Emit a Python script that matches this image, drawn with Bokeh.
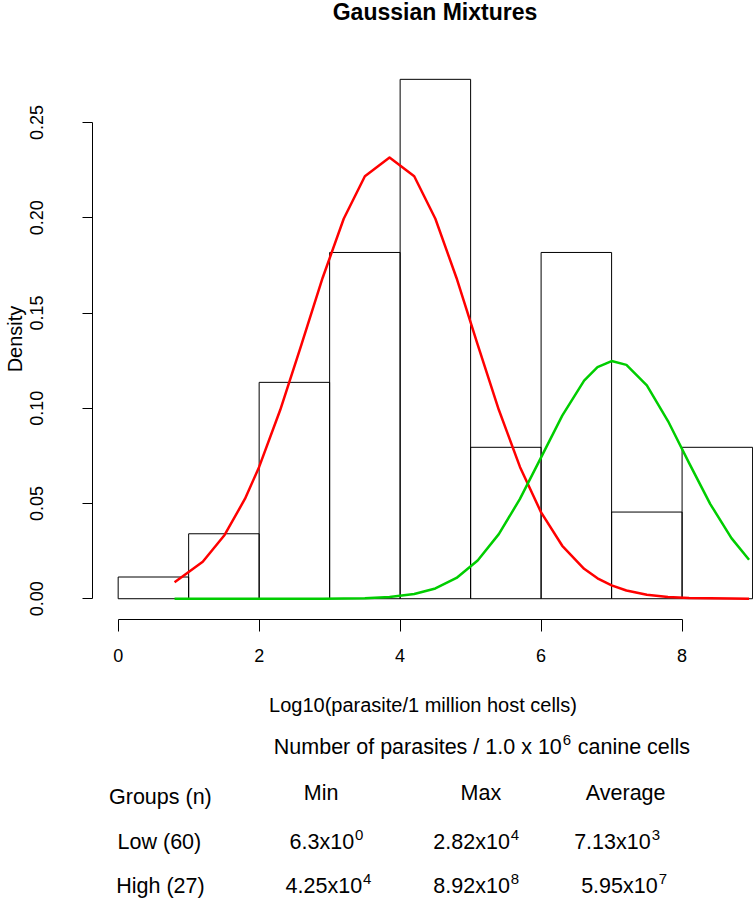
from bokeh.plotting import figure
from bokeh.models import Range1d, FixedTicker, PrintfTickFormatter
from bokeh.layouts import column
from bokeh.embed import file_html
from bokeh.resources import INLINE
from bokeh.core.properties import value

FONT = "Liberation Sans"

# ---------------- data ----------------
bin_left = [0, 1, 2, 3, 4, 5, 6, 7, 8]
bin_right = [1, 2, 3, 4, 5, 6, 7, 8, 9]
density = [0.0114, 0.0341, 0.1136, 0.1818, 0.2727, 0.0795, 0.1818, 0.0455, 0.0795]

curve_x = [0.80, 1.20, 1.51, 1.80, 2.00, 2.30, 2.60, 2.90, 3.20, 3.50, 3.85, 4.20,
           4.50, 4.80, 5.10, 5.40, 5.70, 6.00, 6.30, 6.61, 6.80, 7.00, 7.21, 7.50,
           7.80, 8.10, 8.40, 8.70, 8.95]
low_y = [0.0087, 0.0194, 0.0335, 0.0525, 0.0692, 0.0992, 0.1334, 0.1684, 0.1995,
         0.2218, 0.2316, 0.2218, 0.1995, 0.1684, 0.1334, 0.0992, 0.0692, 0.0453,
         0.0278, 0.0157, 0.0107, 0.0070, 0.0043, 0.0021, 0.0009, 0.0004, 0.0002,
         0.0001, 0.0000]
high_y = [0.0000, 0.0000, 0.0000, 0.0000, 0.0000, 0.0000, 0.0000, 0.0000, 0.0001,
          0.0003, 0.0009, 0.0025, 0.0054, 0.0109, 0.0201, 0.0339, 0.0524, 0.0742,
          0.0961, 0.1145, 0.1216, 0.1248, 0.1228, 0.1120, 0.0933, 0.0712, 0.0497,
          0.0318, 0.0205]

x_ticks = [0, 2, 4, 6, 8]
y_ticks = [0.00, 0.05, 0.10, 0.15, 0.20, 0.25]

chart_title = "Gaussian Mixtures"
y_title = "Density"
x_title = "Log10(parasite/1 million host cells)"
table_title = "Number of parasites / 1.0 x 10"
table_title_exp = "6"
table_title_tail = "canine cells"
group_header = "Groups (n)"
stat_headers = ["Min", "Max", "Average"]
groups = ["Low (60)", "High (27)"]
low_mant = ["6.3", "2.82", "7.13"]
low_exp = ["0", "4", "3"]
high_mant = ["4.25", "8.92", "5.95"]
high_exp = ["4", "8", "7"]

W = 753
LEFT = 91  # width of the left border shared by all stacked panels

def text_panel(h):
    f = figure(width=W, height=h, x_range=Range1d(LEFT, W), y_range=Range1d(h, 0),
               output_backend="svg", toolbar_location=None,
               x_axis_type=None, y_axis_type=None,
               min_border_left=LEFT, min_border_right=0,
               min_border_top=0, min_border_bottom=0)
    f.outline_line_color = None
    f.background_fill_color = "white"
    f.border_fill_color = "white"
    return f

common = dict(text_font=value(FONT), text_color="black", text_baseline="alphabetic")
DY = 8  # measured rendering offset of the alphabetic baseline

# ---------------- title strip ----------------
TOP_H = 30
top = text_panel(TOP_H)
top.text(x=[434], y=[19 - DY], text=[chart_title], text_align="center",
         text_font_size="23px", text_font_style="bold", **common)

# ---------------- main histogram plot ----------------
MAIN_H = 693
p = figure(width=W, height=MAIN_H,
           x_range=Range1d(-0.364, 9.013), y_range=Range1d(-0.01091, 0.28364),
           output_backend="svg", toolbar_location=None,
           min_border_left=LEFT, min_border_right=0, min_border_top=28,
           min_border_bottom=104)
p.outline_line_color = None
p.xgrid.visible = False
p.ygrid.visible = False
p.background_fill_color = "white"
p.border_fill_color = "white"

p.quad(left=bin_left, right=bin_right, bottom=0, top=density,
       fill_color=None, line_color="black", line_width=1)
p.line(curve_x, low_y, line_color="#FF0000", line_width=2.5, line_join="round")
p.line(curve_x, high_y, line_color="#00CD00", line_width=2.5, line_join="round")

xa = p.xaxis[0]
xa.ticker = FixedTicker(ticks=x_ticks)
xa.formatter = PrintfTickFormatter(format="%d")
xa.bounds = (0, 8)
xa.axis_line_color = "black"
xa.major_tick_line_color = "black"
xa.major_tick_out = 12
xa.major_tick_in = 0
xa.minor_tick_out = 0
xa.minor_tick_in = 0
xa.major_label_standoff = 17
xa.major_label_text_font = FONT
xa.major_label_text_font_size = "18px"
xa.major_label_text_color = "black"
xa.axis_label = x_title
xa.axis_label_text_font = FONT
xa.axis_label_text_font_size = "20px"
xa.axis_label_text_font_style = "normal"
xa.axis_label_text_color = "black"
xa.axis_label_standoff = 29

ya = p.yaxis[0]
ya.ticker = FixedTicker(ticks=y_ticks)
ya.formatter = PrintfTickFormatter(format="%.2f")
ya.bounds = (0, 0.25)
ya.axis_line_color = "black"
ya.major_tick_line_color = "black"
ya.major_tick_out = 10
ya.major_tick_in = 0
ya.minor_tick_out = 0
ya.minor_tick_in = 0
ya.major_label_orientation = "vertical"
ya.major_label_standoff = 39
ya.major_label_text_font = FONT
ya.major_label_text_font_size = "18px"
ya.major_label_text_color = "black"
ya.axis_label = y_title
ya.axis_label_text_font = FONT
ya.axis_label_text_font_size = "20px"
ya.axis_label_text_font_style = "normal"
ya.axis_label_text_color = "black"
ya.axis_label_standoff = 2

# ---------------- table below ----------------
OY = TOP_H + MAIN_H
TH = 899 - OY
t = text_panel(TH)

def Y(v):
    return v - OY - DY

TS = "21.5px"
SS = "15px"

# title row of table
j_title = 561
t.text(x=[j_title], y=[Y(754)], text=[table_title], text_align="right",
       text_font_size=TS, **common)
t.text(x=[j_title + 1], y=[Y(747)], text=[table_title_exp], text_align="left",
       text_font_size=SS, **common)
t.text(x=[577], y=[Y(754)], text=[table_title_tail], text_align="left",
       text_font_size=TS, **common)

# header row
t.text(x=[159], y=[Y(804)], text=[group_header], text_align="center",
       text_font_size=TS, **common)
t.text(x=[320, 480, 625], y=[Y(800)] * 3, text=stat_headers,
       text_align="center", text_font_size=TS, **common)

# group labels
t.text(x=[158, 159], y=[Y(849), Y(893)], text=groups, text_align="center",
       text_font_size=TS, **common)

# values: mantissa x 10 with superscript exponent
low_j = [353, 509, 650]
high_j = [361, 509, 657]
for mant, exps, junc, base in ((low_mant, low_exp, low_j, 849),
                               (high_mant, high_exp, high_j, 893)):
    t.text(x=junc, y=[Y(base)] * 3, text=[m + "x10" for m in mant],
           text_align="right", text_font_size=TS, **common)
    t.text(x=[j + 1 for j in junc], y=[Y(base - 7)] * 3, text=exps,
           text_align="left", text_font_size=SS, **common)

layout = column(top, p, t, spacing=0)
open("out.html", "w").write(file_html(layout, INLINE))
